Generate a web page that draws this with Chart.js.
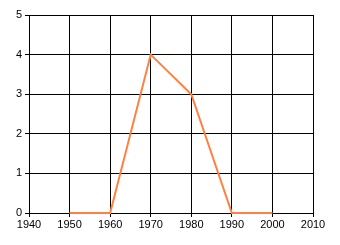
<!DOCTYPE html>
<html>
<head>
<meta charset="utf-8">
<script src="https://cdn.jsdelivr.net/npm/chart.js@4"></script>
<style>
  html, body { margin: 0; padding: 0; background: #fff; }
  .chart { width: 340px; height: 245px; }
</style>
</head>
<body>
<div class="chart"><canvas id="myChart" width="340" height="245"></canvas></div>
<script>
const years = [1950, 1960, 1970, 1980, 1990, 2000];
const values = [0, 0, 4, 3, 0, 0];

const xMin = 1940, xMax = 2010, xStep = 10;
const yMin = 0, yMax = 5, yStep = 1;

const points = years.map((y, i) => ({ x: y, y: values[i] }));

const config = {
    type: 'line',
    data: {
        datasets: [
            {
                label: 'Series1',
                data: points,
                borderColor: 'rgb(255,128,64)',
                borderWidth: 2,
                pointRadius: 0,
                tension: 0,
                fill: false,
                clip: false
            }
        ]
    },
    options: {
        responsive: false,
        animation: false,
        layout: { padding: { left: 0, right: 27, top: 15, bottom: 0 } },
        plugins: {
            legend: { display: false },
            tooltip: { enabled: false }
        },
        scales: {
            x: {
                type: 'linear',
                min: xMin,
                max: xMax,
                afterFit: s => { s.height = 32; },
                ticks: {
                    stepSize: xStep,
                    color: '#000',
                    padding: 1,
                    maxRotation: 0,
                    font: { family: 'Liberation Sans', size: 11 },
                    callback: v => String(v)
                },
                grid: { color: '#000', lineWidth: 1, tickLength: 4 },
                border: { color: '#000', width: 1 }
            },
            y: {
                min: yMin,
                max: yMax,
                afterFit: s => { s.width = 29; },
                ticks: {
                    stepSize: yStep,
                    color: '#000',
                    padding: 3,
                    font: { family: 'Liberation Sans', size: 11 }
                },
                grid: { color: '#000', lineWidth: 1, tickLength: 4 },
                border: { color: '#000', width: 1 }
            }
        }
    }
};

new Chart(document.getElementById('myChart'), config);
</script>
</body>
</html>
